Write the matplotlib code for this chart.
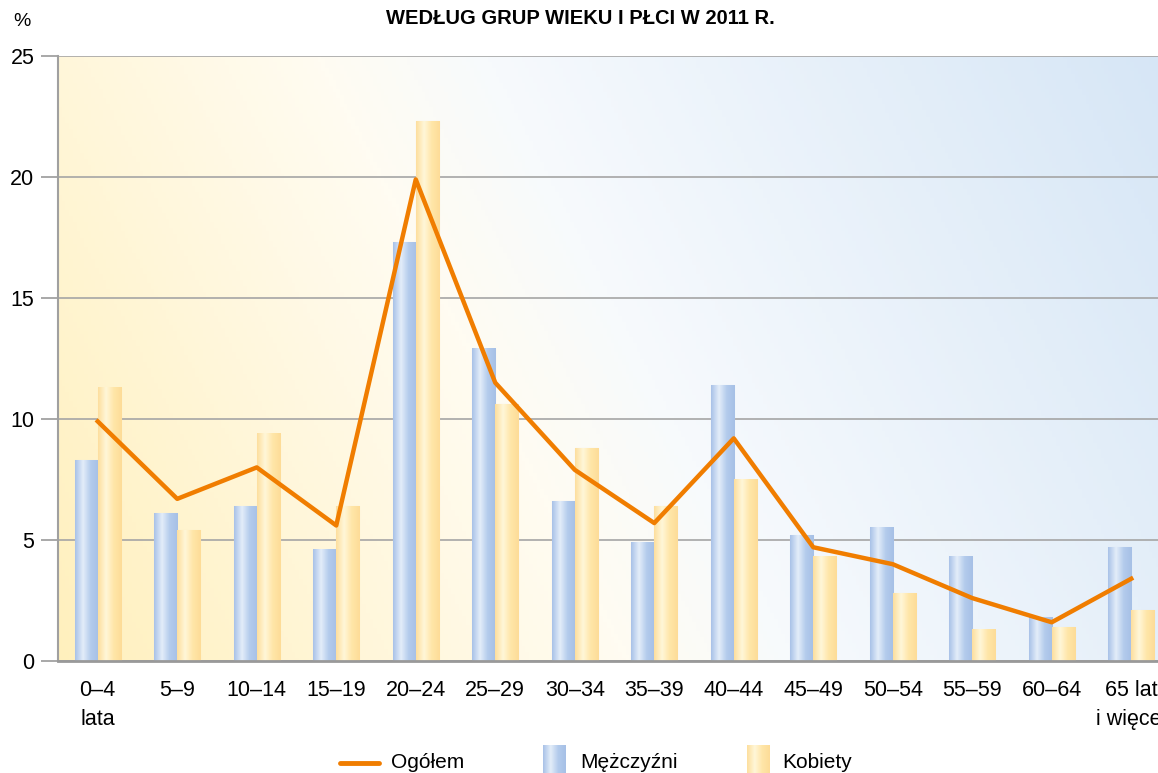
import numpy as np
import matplotlib
matplotlib.use("Agg")
import matplotlib.pyplot as plt
from matplotlib.colors import LinearSegmentedColormap
from matplotlib.lines import Line2D

########################################################################
'DATA'

groups = ["0–4\nlata", "5–9", "10–14", "15–19", "20–24", "25–29", "30–34",
          "35–39", "40–44", "45–49", "50–54", "55–59", "60–64", "65 lat\ni więcej"]
men = [8.3, 6.1, 6.4, 4.6, 17.3, 12.9, 6.6, 4.9, 11.4, 5.2, 5.5, 4.3, 1.8, 4.7]
women = [11.3, 5.4, 9.4, 6.4, 22.3, 10.6, 8.8, 6.4, 7.5, 4.3, 2.8, 1.3, 1.4, 2.1]
total = [9.9, 6.7, 8.0, 5.6, 19.9, 11.5, 7.9, 5.7, 9.2, 4.7, 4.0, 2.6, 1.6, 3.4]

title = "WEDŁUG GRUP WIEKU I PŁCI W 2011 R."
y_ticks = [0, 5, 10, 15, 20, 25]

########################################################################
'FIGURE'

narrow = ['Liberation Sans Narrow', 'Liberation Sans', 'DejaVu Sans']
fig = plt.figure(figsize=(11.58, 7.73), dpi=100)
ax = fig.add_axes([58/1158, 112/773, 1113/1158, 605/773])

# background diagonal gradient
bg_cmap = LinearSegmentedColormap.from_list(
    "bg", [(0, "#fff0bd"), (0.40, "#fffcf2"), (0.52, "#f7fafd"), (1, "#d6e6f6")])
gx, gy = np.meshgrid(np.linspace(0, 1, 300), np.linspace(0, 1, 200))
grad = 0.9*gx + 0.25*gy
grad = grad / grad.max()
ax.imshow(grad, cmap=bg_cmap, extent=[-0.5, 13.5, 0, 25], origin="lower",
          aspect="auto", zorder=0)

x = np.arange(len(groups))
w = 0.29
b1 = ax.bar(x - w/2, men, w, color="#c4d6f0", edgecolor="#dde6f2", linewidth=0.8, zorder=2)
b2 = ax.bar(x + w/2, women, w, color="#ffe8b0", edgecolor="#f3e6c8", linewidth=0.8, zorder=2)

# cylinder-like shading on bars
blue_cmap = LinearSegmentedColormap.from_list("b", ["#a9c2e8", "#e3edf9", "#b3cbec", "#a6c0e6"])
yel_cmap = LinearSegmentedColormap.from_list("y", ["#fddf9e", "#fff6d8", "#ffe6a8", "#fddc98"])
shade = np.linspace(0, 1, 64).reshape(1, -1)
for bars, cm in [(b1, blue_cmap), (b2, yel_cmap)]:
    for r in bars:
        ax.imshow(shade, cmap=cm, aspect="auto", zorder=2.5,
                  extent=[r.get_x(), r.get_x() + r.get_width(), 0, r.get_height()])

ax.plot(x, total, color="#f07d00", linewidth=3.2, zorder=4)

ax.set_xlim(-0.5, 13.5)
ax.set_ylim(0, 25)
ax.set_yticks(y_ticks)
ax.set_yticklabels([str(v) for v in y_ticks], fontsize=15.5, family=['Liberation Sans', 'DejaVu Sans'])
ax.set_xticks(x)
ax.set_xticklabels(groups, fontsize=15.5, family=narrow, linespacing=1.5, va="top")
ax.tick_params(axis="x", length=0, pad=14)
ax.tick_params(axis="y", length=12, width=1.2, color="#9a9a9a", pad=5)
ax.grid(axis="y", color="#a5a5a5", linewidth=1.2, zorder=1)
ax.set_axisbelow(True)
for s in ["top", "right"]:
    ax.spines[s].set_visible(False)
ax.spines["left"].set_color("#a0a0a0")
ax.spines["left"].set_linewidth(1.5)
ax.spines["bottom"].set_color("#999999")
ax.spines["bottom"].set_linewidth(2)
ax.spines["bottom"].set_zorder(5)

fig.text(580/1158, 1 - 18/773, title, ha="center", va="center", fontsize=14.5,
         fontweight="bold", family=narrow)
fig.text(22/1158, 1 - 22/773, "%", ha="center", va="center", fontsize=14,
         family=narrow)

# legend drawn by hand at the bottom
ly = 1 - 763/773
fig.add_artist(Line2D([340/1158, 379/1158], [ly, ly], color="#f07d00", linewidth=3.5,
                      solid_capstyle="round"))
fig.text(391/1158, ly, "Ogółem", va="center", fontsize=15, family=narrow)
for x0, cm in [(543, blue_cmap), (747, yel_cmap)]:
    pax = fig.add_axes([x0/1158, 0, 23/1158, 28/773])
    pax.imshow(shade, cmap=cm, aspect="auto")
    pax.set_axis_off()
fig.text(580/1158, ly, "Mężczyźni", va="center", fontsize=15, family=narrow)
fig.text(782/1158, ly, "Kobiety", va="center", fontsize=15, family=narrow)

fig.savefig("out.png", dpi=100)
